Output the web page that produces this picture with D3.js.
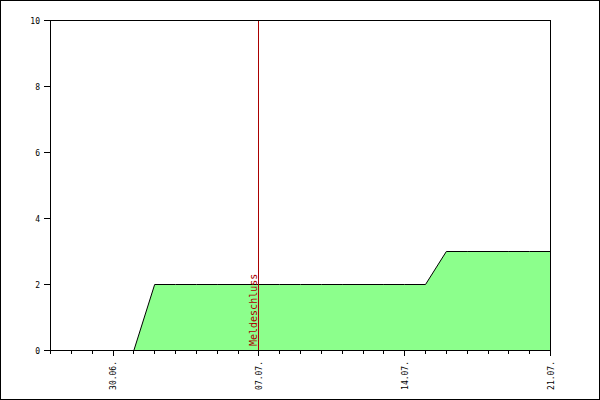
<!DOCTYPE html>
<html><head><meta charset="utf-8">
<script src="https://cdn.jsdelivr.net/npm/d3@7"></script>
<style>body{margin:0;background:#fff}svg{display:block}</style>
</head><body>
<svg id="c" width="600" height="400"></svg>
<script>
const days = ["27.06.","28.06.","29.06.","30.06.","01.07.","02.07.","03.07.","04.07.","05.07.","06.07.","07.07.","08.07.","09.07.","10.07.","11.07.","12.07.","13.07.","14.07.","15.07.","16.07.","17.07.","18.07.","19.07.","20.07.","21.07."];
const values = [0,0,0,0,0,2,2,2,2,2,2,2,2,2,2,2,2,2,2,3,3,3,3,3,3];
const majorLabels = ["30.06.","07.07.","14.07.","21.07."];
const yTicks = [0,2,4,6,8,10];
const markerDay = "07.07.";
const markerLabel = "Meldeschluss";

const svg = d3.select("#c");
svg.append("rect").attr("x",0.5).attr("y",0.5).attr("width",599).attr("height",399)
  .attr("fill","#fff").attr("stroke","#000");

const x = d3.scalePoint().domain(days).range([50.5,550.5]);
const y = d3.scaleLinear().domain([0,10]).range([350.5,20.5]);

const data = days.map((d,i)=>({d, v: values[i]}));
const area = d3.area().x(p=>x(p.d)).y0(y(0)).y1(p=>y(p.v));
const line = d3.line().x(p=>x(p.d)).y(p=>y(p.v));

svg.append("path").datum(data).attr("d",area).attr("fill","#8cff8c");
svg.append("path").datum(data).attr("d",line).attr("fill","none").attr("stroke","#000");

// marker
const mx = x(markerDay);
svg.append("line").attr("x1",mx).attr("x2",mx).attr("y1",y(10)).attr("y2",y(0))
  .attr("stroke","#aa0000").attr("shape-rendering","crispEdges");
svg.append("text").attr("transform",`translate(${mx-2},346) rotate(-90)`)
  .attr("font-family","DejaVu Sans Mono").attr("font-size",10).attr("fill","#aa0000")
  .text(markerLabel);

// frame
svg.append("rect").attr("x",50.5).attr("y",20.5).attr("width",500).attr("height",330)
  .attr("fill","none").attr("stroke","#000").attr("shape-rendering","crispEdges");

// x axis ticks
const g = svg.append("g").attr("shape-rendering","crispEdges");
days.forEach(d=>{
  const major = majorLabels.includes(d);
  g.append("line").attr("x1",x(d)).attr("x2",x(d)).attr("y1",350.5).attr("y2",major?355.5:353.5).attr("stroke","#000");
});
majorLabels.forEach(d=>{
  svg.append("text").attr("transform",`translate(${x(d)+3},361) rotate(-90)`)
    .attr("text-anchor","end").attr("font-family","DejaVu Sans Mono").attr("font-size",8)
    .text(d);
});
// y axis
yTicks.forEach(t=>{
  g.append("line").attr("x1",44).attr("x2",50.5).attr("y1",y(t)).attr("y2",y(t)).attr("stroke","#000");
  svg.append("text").attr("x",40).attr("y",y(t)+3).attr("text-anchor","end")
    .attr("font-family","DejaVu Sans Mono").attr("font-size",8).text(t);
});
</script>
</body></html>
